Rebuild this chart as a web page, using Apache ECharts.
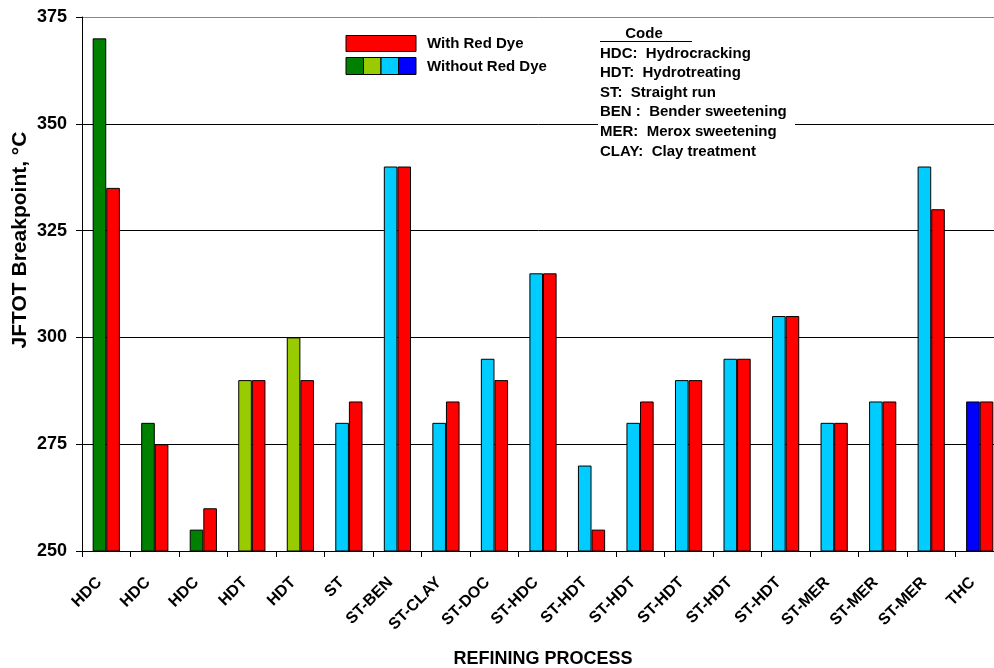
<!DOCTYPE html>
<html>
<head>
<meta charset="utf-8">
<script src="https://cdn.jsdelivr.net/npm/echarts@6/dist/echarts.min.js"></script>
<style>
  html, body { margin: 0; padding: 0; background: #fff; }
  #chart { width: 994px; height: 668px; }
</style>
</head>
<body>
<div id="chart"></div>
<script>
// Refining process of each fuel sample
const categories = ['HDC', 'HDC', 'HDC', 'HDT', 'HDT', 'ST', 'ST-BEN', 'ST-CLAY', 'ST-DOC', 'ST-HDC',
  'ST-HDT', 'ST-HDT', 'ST-HDT', 'ST-HDT', 'ST-HDT', 'ST-MER', 'ST-MER', 'ST-MER', 'THC'];
// JFTOT breakpoint temperatures, °C
const withoutRedDye = [370, 280, 255, 290, 300, 280, 340, 280, 295, 315, 270, 280, 290, 295, 305, 280, 285, 340, 285];
const withRedDye = [335, 275, 260, 290, 290, 285, 340, 285, 290, 315, 255, 285, 290, 295, 305, 280, 285, 330, 285];
const yTicks = [250, 275, 300, 325, 350, 375];
const codeLines = ['HDC:  Hydrocracking', 'HDT:  Hydrotreating', 'ST:  Straight run',
  'BEN :  Bender sweetening', 'MER:  Merox sweetening', 'CLAY:  Clay treatment'];

const FONT = '"Liberation Sans", Arial, sans-serif';
const RED = '#ff0000';
const GREEN = '#008000', LIME = '#99cc00', CYAN = '#00ccff', BLUE = '#0000ff';

// undyed bar colour follows the process family
function familyColor(name) {
  if (name === 'HDC') return GREEN;
  if (name === 'HDT') return LIME;
  if (name === 'THC') return BLUE;
  return CYAN;
}

const chart = echarts.init(document.getElementById('chart'), null, { renderer: 'canvas' });

const graphics = [];
// legend swatches
graphics.push({ type: 'rect', shape: { x: 346, y: 35.5, width: 70, height: 16 },
  style: { fill: RED, stroke: '#000', lineWidth: 1 }, z: 10 });
[GREEN, LIME, CYAN, BLUE].forEach((c, i) => {
  graphics.push({ type: 'rect', shape: { x: 346 + i * 17.5, y: 57.5, width: 17.5, height: 17 },
    style: { fill: c, stroke: '#000', lineWidth: 1 }, z: 10 });
});
graphics.push({ type: 'text', x: 427, y: 44, style: { text: 'With Red Dye', font: 'bold 15px ' + FONT,
  fill: '#000', verticalAlign: 'middle' }, z: 10 });
graphics.push({ type: 'text', x: 427, y: 67, style: { text: 'Without Red Dye', font: 'bold 15px ' + FONT,
  fill: '#000', verticalAlign: 'middle' }, z: 10 });
// code key box
graphics.push({ type: 'rect', shape: { x: 598, y: 25, width: 197, height: 140 },
  style: { fill: '#fff' }, z: 5 });
graphics.push({ type: 'text', x: 644, y: 34, style: { text: 'Code', font: 'bold 15px ' + FONT,
  fill: '#000', align: 'center', verticalAlign: 'middle' }, z: 10 });
graphics.push({ type: 'line', shape: { x1: 600, y1: 41.5, x2: 692, y2: 41.5 },
  style: { stroke: '#000', lineWidth: 1 }, z: 10 });
codeLines.forEach((t, i) => {
  graphics.push({ type: 'text', x: 600, y: 53.5 + i * 19.6, style: { text: t, font: 'bold 15px ' + FONT,
    fill: '#000', verticalAlign: 'middle' }, z: 10 });
});
// y axis title
graphics.push({ type: 'text', x: 20, y: 240, rotation: Math.PI / 2,
  style: { text: 'JFTOT Breakpoint, °C', font: 'bold 21px ' + FONT, fill: '#000',
    align: 'center', verticalAlign: 'middle' }, z: 10 });

chart.setOption({
  animation: false,
  backgroundColor: '#fff',
  // the last category runs slightly past the right edge of the page
  grid: { left: 82, width: 922, top: 17, bottom: 117, containLabel: false, outerBoundsMode: 'none' },
  xAxis: {
    type: 'category',
    data: categories,
    name: 'REFINING PROCESS',
    nameLocation: 'middle',
    nameGap: 99,
    nameTextStyle: { fontFamily: FONT, fontWeight: 'bold', fontSize: 18, color: '#000' },
    axisLine: { lineStyle: { color: '#000', width: 1 } },
    axisTick: { show: true, alignWithLabel: false, length: 6, lineStyle: { color: '#000' } },
    axisLabel: { interval: 0, rotate: 45, margin: 22, padding: [0, 10, 0, 0], fontFamily: FONT,
      fontWeight: 'bold', fontSize: 16, color: '#000' },
    splitLine: { show: false }
  },
  yAxis: {
    type: 'value',
    min: yTicks[0],
    max: yTicks[yTicks.length - 1],
    interval: yTicks[1] - yTicks[0],
    axisLine: { show: true, lineStyle: { color: '#000', width: 1 } },
    axisTick: { show: true, length: 6, lineStyle: { color: '#000' } },
    axisLabel: { margin: 15, fontFamily: FONT, fontWeight: 'bold', fontSize: 18, color: '#000' },
    splitLine: { show: true, lineStyle: { color: ['#000', '#000', '#000', '#000', '#000', '#888'], width: 1 } }
  },
  series: [
    {
      name: 'Without Red Dye',
      type: 'bar',
      barWidth: 13.6,
      barGap: '0%',
      data: withoutRedDye.map((v, i) => ({ value: v, itemStyle: { color: familyColor(categories[i]) } })),
      itemStyle: { borderColor: '#000', borderWidth: 1 }
    },
    {
      name: 'With Red Dye',
      type: 'bar',
      barWidth: 13.6,
      barGap: '0%',
      data: withRedDye,
      itemStyle: { color: RED, borderColor: '#000', borderWidth: 1 }
    }
  ],
  graphic: graphics
});
</script>
</body>
</html>
